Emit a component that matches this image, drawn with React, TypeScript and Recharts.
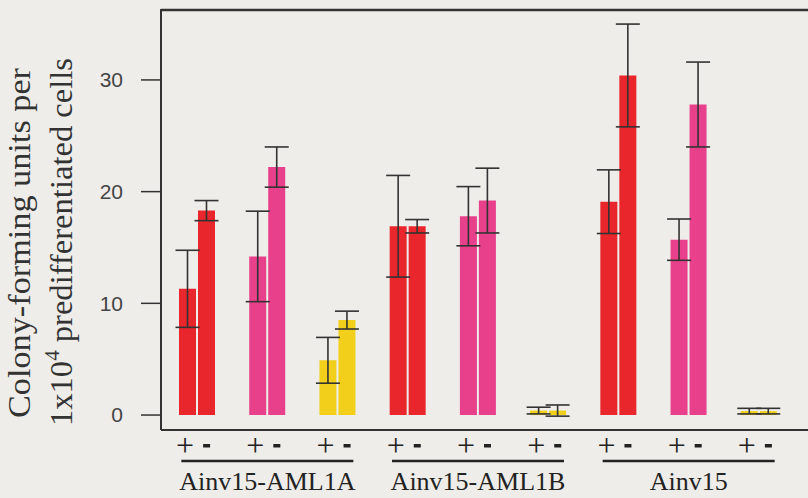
import { Bar, BarChart, Cell, ErrorBar, Label, ReferenceLine, XAxis, YAxis } from "recharts";

const categories = [
  "AML1A-1", "AML1A-2", "AML1A-3",
  "AML1B-1", "AML1B-2", "AML1B-3",
  "Ainv15-1", "Ainv15-2", "Ainv15-3",
];
const groups = ["Ainv15-AML1A", "Ainv15-AML1B", "Ainv15"];

// "+" condition
const plusValues = [11.3, 14.2, 4.9, 16.9, 17.8, 0.4, 19.1, 15.7, 0.35];
const plusErrors = [3.45, 4.05, 2.05, 4.55, 2.65, 0.3, 2.85, 1.85, 0.25];
// "-" condition
const minusValues = [18.3, 22.2, 8.5, 16.9, 19.2, 0.4, 30.4, 27.8, 0.35];
const minusErrors = [0.9, 1.8, 0.8, 0.6, 2.9, 0.5, 4.6, 3.8, 0.25];

const yTicks = [0, 10, 20, 30];
const Y_MIN = -1.34;
const Y_MAX = 36.35;

const W = 808;
const H = 498;
const TOP = 9;
const AXIS_W = 161;
const COLORS = ["#e8262c", "#e8408a", "#f2cf1a"];
const INK = "#333";
const SERIF = "'Liberation Serif', 'Times New Roman', serif";

const data = categories.map((c, i) => ({
  name: c,
  plus: plusValues[i],
  plusErr: plusErrors[i],
  minus: minusValues[i],
  minusErr: minusErrors[i],
}));

function PairTick(props: any) {
  const { x, y, index } = props;
  const showGroup = index % 3 === 1;
  return (
    <g>
      <text x={x - 12} y={y + 26} textAnchor="middle" fontFamily={SERIF} fontSize={32} fill="#222">
        +
      </text>
      <rect x={x + 6} y={y + 14} width={7} height={3.5} fill="#222" />
      {showGroup && (
        <g>
          <line x1={x - 86} x2={x + 86} y1={y + 31} y2={y + 31} stroke="#222" strokeWidth={2.5} />
          <text x={x} y={y + 60} textAnchor="middle" fontFamily={SERIF} fontSize={26} fill="#222">
            {groups[Math.floor(index / 3)]}
          </text>
        </g>
      )}
    </g>
  );
}

function YTitle() {
  return (
    <g fontFamily={SERIF} fill="#333">
      <text
        x={30}
        y={243}
        transform="rotate(-90 30 243)"
        textAnchor="middle"
        fontSize={31}
        textLength={350}
        lengthAdjust="spacingAndGlyphs"
      >
        Colony-forming units per
      </text>
      <text
        x={72}
        y={242}
        transform="rotate(-90 72 242)"
        textAnchor="middle"
        fontSize={31}
        textLength={368}
        lengthAdjust="spacingAndGlyphs"
      >
        1x10
        <tspan fontSize={20} dy={-13}>4</tspan>
        <tspan dy={13}> predifferentiated cells</tspan>
      </text>
    </g>
  );
}

export default function App() {
  return (
    <div style={{ position: "absolute", left: 0, top: 0, width: W, height: H, background: "#eeede9" }}>
      <BarChart
        width={W}
        height={H}
        data={data}
        margin={{ top: TOP, right: 0, bottom: 0, left: 0 }}
        barSize={17}
        barGap={2}
      >
        <XAxis
          dataKey="name"
          height={68}
          interval={0}
          tickSize={0}
          tickMargin={0}
          tickLine={false}
          padding={{ left: 1, right: 14 }}
          axisLine={{ stroke: INK, strokeWidth: 2 }}
          tick={<PairTick />}
        />
        <YAxis
          width={AXIS_W}
          domain={[Y_MIN, Y_MAX]}
          ticks={yTicks}
          allowDataOverflow
          tickSize={20}
          tickMargin={18}
          tickLine={{ stroke: INK, strokeWidth: 1.5 }}
          axisLine={{ stroke: INK, strokeWidth: 2 }}
          tick={{ fill: "#444", fontSize: 21, fontFamily: "'Liberation Sans', Arial, sans-serif" }}
        >
          <Label content={<YTitle />} />
        </YAxis>
        <ReferenceLine y={Y_MAX - 0.1} ifOverflow="visible" stroke={INK} strokeWidth={2.5} />
        <Bar dataKey="plus" isAnimationActive={false}>
          {data.map((d, i) => (
            <Cell key={d.name} fill={COLORS[i % 3]} />
          ))}
          <ErrorBar dataKey="plusErr" width={12} stroke={INK} strokeWidth={1.6} />
        </Bar>
        <Bar dataKey="minus" isAnimationActive={false}>
          {data.map((d, i) => (
            <Cell key={d.name} fill={COLORS[i % 3]} />
          ))}
          <ErrorBar dataKey="minusErr" width={12} stroke={INK} strokeWidth={1.6} />
        </Bar>
      </BarChart>
    </div>
  );
}
